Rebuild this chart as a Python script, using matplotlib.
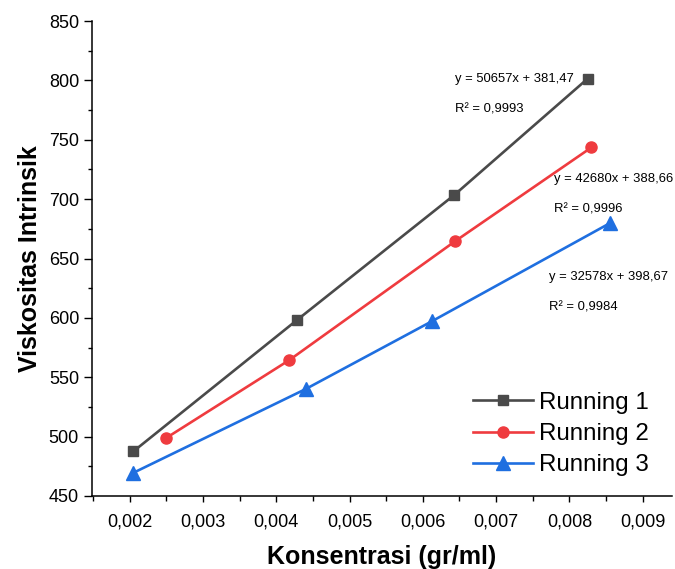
import matplotlib
matplotlib.use("Agg")
import matplotlib.pyplot as plt
from matplotlib.ticker import MultipleLocator, FuncFormatter

plt.rcParams['font.family'] = ['Liberation Sans', 'DejaVu Sans']

# Data
x_run1 = [0.00205, 0.00428, 0.00643, 0.00825]
y_run1 = [487.5, 598.0, 703.5, 801.5]
x_run2 = [0.00249, 0.00418, 0.00644, 0.00830]
y_run2 = [498.5, 564.5, 664.5, 743.5]
x_run3 = [0.00205, 0.00440, 0.00612, 0.00856]
y_run3 = [469.5, 540.0, 597.0, 680.0]
labels = ["Running 1", "Running 2", "Running 3"]
eq_texts = ["y = 50657x + 381,47", "y = 42680x + 388,66", "y = 32578x + 398,67"]
r2_texts = ["R\u00b2 = 0,9993", "R\u00b2 = 0,9996", "R\u00b2 = 0,9984"]

W, H = 675, 569
fig = plt.figure(figsize=(W/100, H/100), dpi=100)
left, right, top, bottom = 91.5, 672, 21, 496
ax = fig.add_axes([left/W, 1-bottom/H, (right-left)/W, (bottom-top)/H])

c1, c2, c3 = '#4a4a4a', '#ef3b3f', '#1f6fe0'
ax.plot(x_run1, y_run1, color=c1, lw=1.9, marker='s', ms=7.6, label=labels[0])
ax.plot(x_run2, y_run2, color=c2, lw=1.9, marker='o', ms=8, label=labels[1])
ax.plot(x_run3, y_run3, color=c3, lw=1.9, marker='^', ms=9.5, label=labels[2])

ax.set_xlim(0.00148, 0.00940)
ax.set_ylim(450, 850)
ax.xaxis.set_major_locator(MultipleLocator(0.001))
ax.xaxis.set_minor_locator(MultipleLocator(0.0005))
ax.yaxis.set_major_locator(MultipleLocator(50))
ax.yaxis.set_minor_locator(MultipleLocator(25))
ax.xaxis.set_major_formatter(FuncFormatter(lambda v, p: f"{v:.3f}".replace('.', ',')))

for s in ['top', 'right']:
    ax.spines[s].set_visible(False)
for s in ['left', 'bottom']:
    ax.spines[s].set_linewidth(1.1)

ax.tick_params(axis='x', which='major', direction='out', length=4.5, width=1.0, labelsize=13, pad=8)
ax.tick_params(axis='x', which='minor', direction='out', length=3.5, width=1.0)
ax.tick_params(axis='y', which='major', direction='out', length=6, width=1.0, labelsize=13, pad=3)
ax.tick_params(axis='y', which='minor', direction='out', length=3, width=1.0)

ax.set_xlabel("Konsentrasi (gr/ml)", fontsize=18, fontweight='bold', labelpad=10.5)
ax.set_ylabel("Viskositas Intrinsik", fontsize=18, fontweight='bold', labelpad=5)

# annotations (pixel positions of text left edge / vertical centre)
eq_pos = [(455, 79), (554, 179), (549, 277)]
r2_pos = [(455, 110), (554, 209), (549, 307)]
for t, (px, py) in zip(eq_texts, eq_pos):
    fig.text(px/W, 1-py/H, t, fontsize=9.4, ha='left', va='center')
for t, (px, py) in zip(r2_texts, r2_pos):
    fig.text(px/W, 1-py/H, t, fontsize=9.4, ha='left', va='center')

leg = ax.legend(loc='center left', bbox_to_anchor=(473/W, 1-434/H), bbox_transform=fig.transFigure,
                frameon=False, fontsize=17.4, handlelength=2.5, handletextpad=0.25,
                labelspacing=0.38, borderpad=0, borderaxespad=0)

fig.savefig("out.png", dpi=100)
